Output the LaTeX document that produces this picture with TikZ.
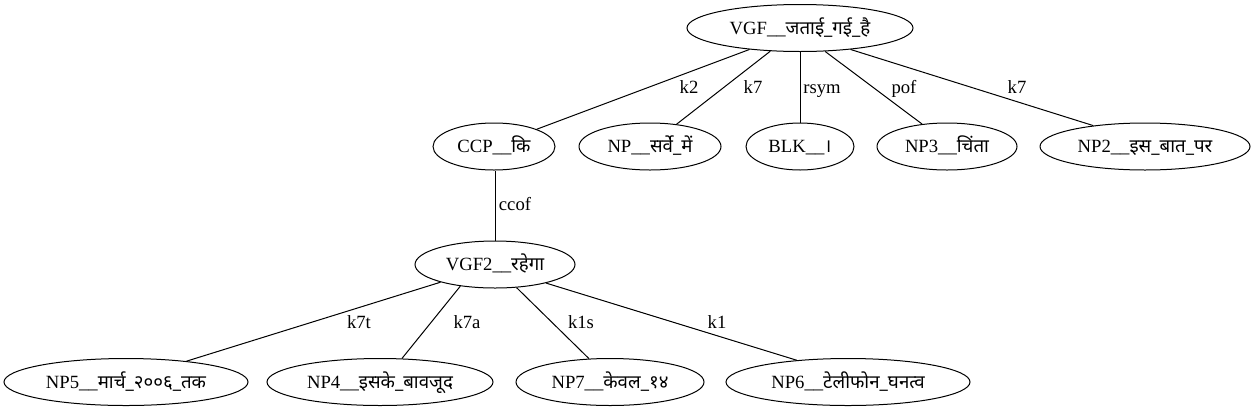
\documentclass[tikz,border=0pt]{standalone}
\usepackage{fontspec}
\setmainfont{Liberation Serif}
\newfontfamily\deva[Script=Devanagari]{Noto Sans}
\usetikzlibrary{shapes.geometric}
\newcommand{\dv}[1]{{\deva #1}}
\begin{document}
\begin{tikzpicture}[x=0.75pt,y=-0.75pt,
  ell/.style={draw, ellipse, line width=0.75pt, inner sep=0pt, minimum height=35.25pt},
  txt/.style={font=\fontsize{14}{16}\selectfont, inner sep=0pt, anchor=base},
  lab/.style={font=\fontsize{14}{16}\selectfont, inner sep=0pt, anchor=base},
  edge/.style={draw, line width=0.75pt}]
\useasboundingbox (0,0) rectangle (1255,411);
% level 0
\node[ell, minimum width=169.5pt] (root) at (800,28) {};
\node[txt] (rootT) at (800,34) {VGF\_\_\dv{जताई\_गई\_है}};
% level 1
\node[ell, minimum width=91.5pt] (ccp) at (494,146.5) {};
\node[txt] (ccpT) at (494,152.5) {CCP\_\_\dv{कि}};
\node[ell, minimum width=106.5pt] (np) at (650,146.5) {};
\node[txt] (npT) at (650,152.5) {NP\_\_\dv{सर्वे\_में}};
\node[ell, minimum width=81pt] (blk) at (800,146.5) {};
\node[txt] (blkT) at (800,152.5) {BLK\_\_\dv{।}};
\node[ell, minimum width=105pt] (np3) at (947,146.5) {};
\node[txt] (np3T) at (947,152.5) {NP3\_\_\dv{चिंता}};
\node[ell, minimum width=157.5pt] (np2) at (1145,146.5) {};
\node[txt] (np2T) at (1145,152.5) {NP2\_\_\dv{इस\_बात\_पर}};
% level 2
\node[ell, minimum width=120pt] (vgf2) at (495,264.5) {};
\node[txt] (vgf2T) at (495,270.5) {VGF2\_\_\dv{रहेगा}};
% level 3
\node[ell, minimum width=183pt] (np5) at (126,382) {};
\node[txt] (np5T) at (126,388) {NP5\_\_\dv{मार्च\_२००६\_तक}};
\node[ell, minimum width=169.5pt] (np4) at (380,382) {};
\node[txt] (np4T) at (380,388) {NP4\_\_\dv{इसके\_बावजूद}};
\node[ell, minimum width=141pt] (np7) at (610,382) {};
\node[txt] (np7T) at (610,388) {NP7\_\_\dv{केवल\_१४}};
\node[ell, minimum width=183pt] (np6) at (848,382) {};
\node[txt] (np6T) at (848,388) {NP6\_\_\dv{टेलीफोन\_घनत्व}};
% edges
\draw[edge] (root.203.6) -- (ccp.22.2);
\draw[edge] (root.218.7) -- (np.40.6);
\draw[edge] (root.south) -- (blk.north);
\draw[edge] (root.317.5) -- (np3.138.4);
\draw[edge] (root.337.5) -- (np2.158.9);
\draw[edge] (vgf2.north |- ccp.south) -- (vgf2.north);
\draw[edge] (vgf2.198.8) -- (np5.19.5);
\draw[edge] (vgf2.212.5) -- (np4.47.4);
\draw[edge] (vgf2.313.7) -- (np7.132.6);
\draw[edge] (vgf2.340.9) -- (np6.157.7);
% edge labels
\node[lab] (l1) at (689,93) {k2};
\node[lab] (l2) at (753,93) {k7};
\node[lab] (l3) at (822,93) {rsym};
\node[lab] (l4) at (904,93) {pof};
\node[lab] (l5) at (1017,93) {k7};
\node[lab] (l6) at (515,210) {ccof};
\node[lab] (l7) at (359,328) {k7t};
\node[lab] (l8) at (467,328) {k7a};
\node[lab] (l9) at (581,328) {k1s};
\node[lab] (l10) at (717,328) {k1};
\end{tikzpicture}
\end{document}
